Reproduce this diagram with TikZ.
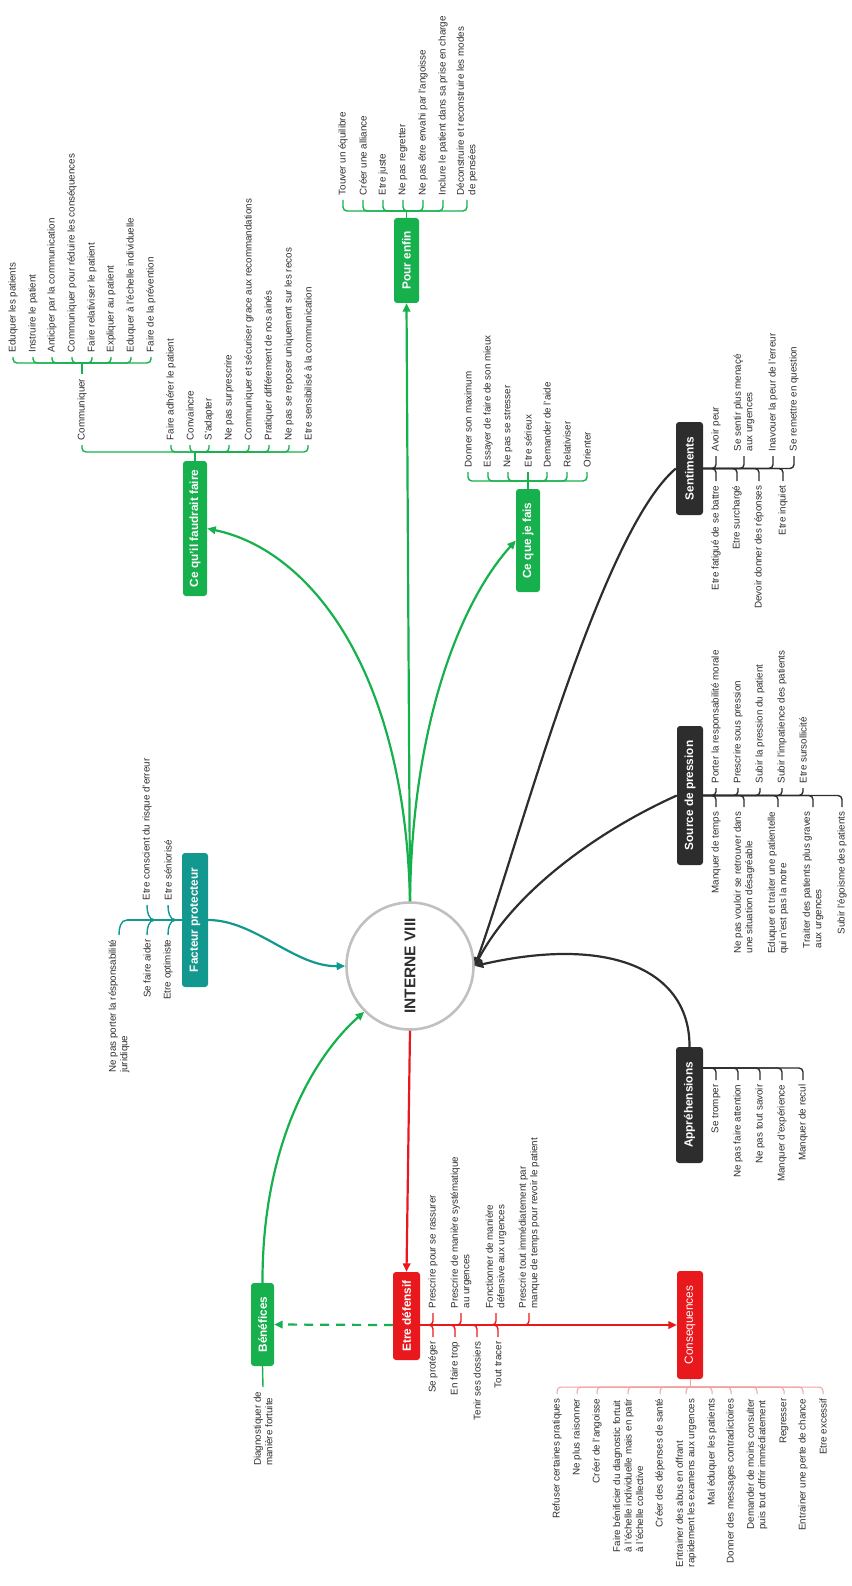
\documentclass[tikz,border=0pt]{standalone}
\usepackage{fontspec}
\setmainfont{Liberation Sans}
\usepackage{graphicx}
\usetikzlibrary{arrows.meta}
\definecolor{vert}{RGB}{22,176,76}
\definecolor{bleu}{RGB}{18,152,142}
\definecolor{noir}{RGB}{45,45,45}
\definecolor{rouge}{RGB}{232,24,28}
\definecolor{rose}{RGB}{242,160,160}
\definecolor{gris}{RGB}{192,192,192}
\definecolor{texte}{RGB}{45,45,45}
\newcommand{\linkwidth}{2.2pt}
\newcommand{\barwidth}{1.4pt}
\newcommand{\leaffont}{\fontsize{9.8}{11.5}\selectfont}
\newcommand{\boxfont}{\fontsize{11.8}{13}\selectfont\bfseries}

\begin{document}
\begin{tikzpicture}[x=1pt,y=1pt,
  box/.style={rotate=90, rounded corners=3pt, text=white, font=\boxfont, inner sep=0pt},
  leaf/.style={rotate=90, font=\leaffont, text=texte, inner xsep=4.5pt, inner ysep=1pt, align=left},
  lup/.style={leaf, anchor=west},
  ldn/.style={leaf, anchor=east},
  tip/.style={-{Triangle[length=8.5pt,width=7.5pt]}},
  glink/.style={draw=vert, line width=\linkwidth},
  gbar/.style={draw=vert, line width=\barwidth, rounded corners=4pt},
  nbar/.style={draw=noir, line width=\barwidth, rounded corners=4pt},
  rbar/.style={draw=rouge, line width=\barwidth, rounded corners=4pt},
  pbar/.style={draw=rose, line width=1pt, rounded corners=4pt},
  tbar/.style={draw=bleu, line width=\barwidth}]
\useasboundingbox (0,0) rectangle (851,-1586);

%centre
\node[circle, draw=gris, line width=2.6pt, minimum size=127pt, inner sep=0pt, text=texte] (centre) at (410,-966)
  {\rotatebox{90}{\fontsize{15.5}{16}\selectfont\bfseries INTERNE VIII}};

%boxes
\node[box, fill=vert, minimum width=85pt, minimum height=25pt] (pour) at (406.5,-260.5) {Pour enfin};
\node[box, fill=vert, minimum width=135pt, minimum height=24pt] (faire) at (195,-528.5) {Ce qu'il faudrait faire};
\node[box, fill=vert, minimum width=103pt, minimum height=24pt] (fais) at (528,-540.5) {Ce que je fais};
\node[box, fill=bleu, minimum width=134pt, minimum height=26pt] (facteur) at (195,-920) {Facteur protecteur};
\node[box, fill=noir, minimum width=93pt, minimum height=27pt] (sent) at (689.5,-468.5) {Sentiments};
\node[box, fill=noir, minimum width=139pt, minimum height=26pt] (source) at (690,-795.5) {Source de pression};
\node[box, fill=noir, minimum width=116pt, minimum height=27pt] (appre) at (689.5,-1105) {Appréhensions};
\node[box, fill=rouge, minimum width=88pt, minimum height=27pt] (defensif) at (406.5,-1316) {Etre défensif};
\node[box, fill=rouge, minimum width=108pt, minimum height=26pt, font=\fontsize{11.8}{13}\selectfont] (conseq) at (690,-1325) {Consequences};
\node[box, fill=vert, minimum width=83pt, minimum height=23pt] (benef) at (262.5,-1324.5) {Bénéfices};

%links
\draw[glink, tip] (centre.north) -- (pour.west);
\draw[glink, tip] (centre.north) .. controls (405,-670) and (310,-550) .. (faire.south);
\draw[glink, tip] (centre.north) .. controls (412,-720) and (462,-600) .. (fais.north);
\draw[glink, tip] (benef.east) .. controls (262,-1150) and (310,-1060) .. (centre.225);
\draw[draw=bleu, line width=\linkwidth, tip] (facteur.south) .. controls (255,-920) and (295,-967) .. (centre.west);
\draw[draw=noir, line width=\linkwidth, tip] (sent.north) .. controls (599,-534) and (516,-853) .. (centre.east);
\draw[draw=noir, line width=\linkwidth, tip] (source.north) .. controls (600,-830) and (515,-890) .. (centre.east);
\draw[draw=noir, line width=\linkwidth, tip] (appre.east) .. controls (690,-970) and (610,-935) .. (centre.east);
\draw[draw=rouge, line width=\linkwidth, tip] (centre.south) -- (defensif.east);
\coordinate (dj) at (420,-1325);
\coordinate (bj) at (393,-1325);
\draw[draw=rouge, line width=\linkwidth, tip] (dj) -- (conseq.north);
\draw[glink, dash pattern=on 9pt off 7pt, tip] (bj) -- (benef.south);

%pour enfin
\coordinate (pourj) at (406.5,-211);
\node[lup] (pour1) at (343,-200) {Touver un équilibre};
\node[lup] (pour2) at (363,-200) {Créer une alliance};
\node[lup] (pour3) at (383,-200) {Etre juste};
\node[lup] (pour4) at (403,-200) {Ne pas regretter};
\node[lup] (pour5) at (423,-200) {Ne pas être envahi par l'angoisse};
\node[lup] (pour6) at (443,-200) {Inclure le patient dans sa prise en charge};
\node[lup] (pour7) at (467,-200) {Déconstruire et reconstruire les modes\\de pensées};
\draw[gbar] (pour.east) -- (pourj);
\draw[gbar] (pour1.west) |- (pourj);
\draw[gbar] (pour2.west) |- (pourj);
\draw[gbar] (pour3.west) |- (pourj);
\draw[gbar] (pour4.west) |- (pourj);
\draw[gbar] (pour5.west) |- (pourj);
\draw[gbar] (pour6.west) |- (pourj);
\draw[gbar] (pour7.west) |- (pourj);

%ce qu'il faudrait faire
\coordinate (fairej) at (195,-452);
\node[lup] (com) at (82,-445) {Communiquer};
\node[lup] (faire1) at (171,-445) {Faire adhérer le patient};
\node[lup] (faire2) at (190,-445) {Convaincre};
\node[lup] (faire3) at (209,-445) {S'adapter};
\node[lup] (faire4) at (229,-445) {Ne pas surprescrire};
\node[lup] (faire5) at (249,-445) {Communiquer et sécuriser grace aux recommandations};
\node[lup] (faire6) at (269,-445) {Pratiquer différement de nos ainés};
\node[lup] (faire7) at (289,-445) {Ne pas se reposer uniquement sur les recos};
\node[lup] (faire8) at (308,-445) {Etre sensibilisé à la communication};
\draw[gbar] (faire.east) -- (fairej);
\draw[gbar] (com.west) |- (fairej);
\draw[gbar] (faire1.west) |- (fairej);
\draw[gbar] (faire2.west) |- (fairej);
\draw[gbar] (faire3.west) |- (fairej);
\draw[gbar] (faire4.west) |- (fairej);
\draw[gbar] (faire5.west) |- (fairej);
\draw[gbar] (faire6.west) |- (fairej);
\draw[gbar] (faire7.west) |- (fairej);
\draw[gbar] (faire8.west) |- (fairej);
%communiquer
\coordinate (comj) at (82,-363);
\node[lup] (com1) at (13,-357) {Eduquer les patients};
\node[lup] (com2) at (33,-357) {Instruire le patient};
\node[lup] (com3) at (52,-357) {Anticiper par la communication};
\node[lup] (com4) at (72,-357) {Communiquer pour réduire les conséquences};
\node[lup] (com5) at (92,-357) {Faire relativiser le patient};
\node[lup] (com6) at (111,-357) {Expliquer au patient};
\node[lup] (com7) at (131,-357) {Eduquer à l'échelle individuelle};
\node[lup] (com8) at (151,-357) {Faire de la prévention};
\draw[gbar] (com.east) -- (comj);
\draw[gbar] (com1.west) |- (comj);
\draw[gbar] (com2.west) |- (comj);
\draw[gbar] (com3.west) |- (comj);
\draw[gbar] (com4.west) |- (comj);
\draw[gbar] (com5.west) |- (comj);
\draw[gbar] (com6.west) |- (comj);
\draw[gbar] (com7.west) |- (comj);
\draw[gbar] (com8.west) |- (comj);

%ce que je fais
\coordinate (faisj) at (528,-481);
\node[lup] (fais1) at (468,-472) {Donner son maximum};
\node[lup] (fais2) at (488,-472) {Essayer de faire de son mieux};
\node[lup] (fais3) at (508,-472) {Ne pas se stresser};
\node[lup] (fais4) at (528,-472) {Etre sérieux};
\node[lup] (fais5) at (547,-472) {Demander de l'aide};
\node[lup] (fais6) at (567,-472) {Relativiser};
\node[lup] (fais7) at (587,-472) {Orienter};
\draw[gbar] (fais.east) -- (faisj);
\draw[gbar] (fais1.west) |- (faisj);
\draw[gbar] (fais2.west) |- (faisj);
\draw[gbar] (fais3.west) |- (faisj);
\draw[gbar] (fais4.west) -- (faisj);
\draw[gbar] (fais5.west) |- (faisj);
\draw[gbar] (fais6.west) |- (faisj);
\draw[gbar] (fais7.west) |- (faisj);

%facteur protecteur
\coordinate (fpa) at (176,-920);
\coordinate (fpb) at (155,-920);
\coordinate (fpc) at (127,-920);
\node[lup] (fac1) at (168,-905) {Etre séniorisé};
\node[ldn] (fac2) at (168,-935) {Etre optimiste};
\node[lup] (fac3) at (147,-905) {Etre conscient du risque d'erreur};
\node[ldn] (fac4) at (147,-935) {Se faire aider};
\node[ldn] (fac5) at (119,-935) {Ne pas porter la résponsabilité\\juridique};
\draw[tbar] (facteur.north) -- (fpc);
\draw[tbar] (fac1.west) to[out=-90, in=180] (fpa);
\draw[tbar] (fac2.east) to[out=90, in=180] (fpa);
\draw[tbar] (fac3.west) to[out=-90, in=180] (fpb);
\draw[tbar] (fac4.east) to[out=90, in=180] (fpb);
\draw[tbar] (fac5.east) to[out=90, in=180] (fpc);

%sentiments
\node[lup] (sent1) at (716,-456) {Avoir peur};
\node[lup] (sent2) at (744,-456) {Se sentir plus menaçé\\aux urgences};
\node[lup] (sent3) at (773,-456) {Inavouer la peur de l'erreur};
\node[lup] (sent4) at (794,-456) {Se remettre en question};
\node[ldn] (sent5) at (716,-481) {Etre fatigué de se battre};
\node[ldn] (sent6) at (737,-481) {Etre surchargé};
\node[ldn] (sent7) at (759,-481) {Devoir donner des réponses};
\node[ldn] (sent8) at (783,-481) {Etre inquiet};
\draw[nbar] (sent1.west) |- (sent.south);
\draw[nbar] (sent2.west) |- (sent.south);
\draw[nbar] (sent3.west) |- (sent.south);
\draw[nbar] (sent4.west) |- (sent.south);
\draw[nbar] (sent5.east) |- (sent.south);
\draw[nbar] (sent6.east) |- (sent.south);
\draw[nbar] (sent7.east) |- (sent.south);
\draw[nbar] (sent8.east) |- (sent.south);

%source de pression
\node[lup] (src1) at (716,-788) {Porter la responsabilité morale};
\node[lup] (src2) at (738,-788) {Prescrire sous pression};
\node[lup] (src3) at (760,-788) {Subir la pression du patient};
\node[lup] (src4) at (782,-788) {Subir l'impatience des patients};
\node[lup] (src5) at (803,-788) {Etre sursollicité};
\node[ldn] (src6) at (716,-807) {Manquer de temps};
\node[ldn] (src7) at (744,-807) {Ne pas vouloir se retrouver dans\\une situation désagréable};
\node[ldn] (src8) at (778,-807) {Eduquer et traiter une patientelle\\qui n'est pas la notre};
\node[ldn] (src9) at (813,-807) {Traiter des patients plus graves\\aux urgences};
\node[ldn] (src10) at (842,-807) {Subir l'égoisme des patients};
\draw[nbar] (src1.west) |- (source.south);
\draw[nbar] (src2.west) |- (source.south);
\draw[nbar] (src3.west) |- (source.south);
\draw[nbar] (src4.west) |- (source.south);
\draw[nbar] (src5.west) |- (source.south);
\draw[nbar] (src6.east) |- (source.south);
\draw[nbar] (src7.east) |- (source.south);
\draw[nbar] (src8.east) |- (source.south);
\draw[nbar] (src9.east) |- (source.south);
\draw[nbar] (src10.east) |- (source.south);

%apprehensions
\coordinate (apprej) at (703,-1068);
\node[ldn] (app1) at (716,-1080) {Se tromper};
\node[ldn] (app2) at (738,-1080) {Ne pas faire attention};
\node[ldn] (app3) at (760,-1080) {Ne pas tout savoir};
\node[ldn] (app4) at (782,-1080) {Manquer d'expérience};
\node[ldn] (app5) at (803,-1080) {Manquer de recul};
\draw[nbar] (app1.east) |- (apprej);
\draw[nbar] (app2.east) |- (apprej);
\draw[nbar] (app3.east) |- (apprej);
\draw[nbar] (app4.east) |- (apprej);
\draw[nbar] (app5.east) |- (apprej);

%etre defensif
\node[lup] (def1) at (433,-1313) {Prescrire pour se rassurer};
\node[lup] (def2) at (461,-1313) {Prescrire de manière systématique\\au urgences};
\node[lup] (def3) at (496,-1313) {Fonctionner de manière\\défensive aux urgences};
\node[lup] (def4) at (529,-1313) {Prescrie tout immédiatement par\\manque de temps pour revoir le patient};
\node[ldn] (def5) at (433,-1337) {Se protéger};
\node[ldn] (def6) at (455,-1337) {En faire trop};
\node[ldn] (def7) at (477,-1337) {Tenir ses dossiers};
\node[ldn] (def8) at (498,-1337) {Tout tracer};
\draw[rbar] (def1.west) |- (dj);
\draw[rbar] (def2.west) |- (dj);
\draw[rbar] (def3.west) |- (dj);
\draw[rbar] (def4.west) |- (dj);
\draw[rbar] (def5.east) |- (dj);
\draw[rbar] (def6.east) |- (dj);
\draw[rbar] (def7.east) |- (dj);
\draw[rbar] (def8.east) |- (dj);

%consequences
\coordinate (conseqj) at (690,-1387);
\node[ldn] (cons1) at (557,-1394) {Refuser certaines pratiques};
\node[ldn] (cons2) at (577,-1394) {Ne plus raisonner};
\node[ldn] (cons3) at (597,-1394) {Créer de l'angoisse};
\node[ldn] (cons4) at (628,-1394) {Faire bénificier du diagnostic fortuit\\à l'échelle individuelle mais en patir\\à l'échelle collective};
\node[ldn] (cons5) at (660,-1394) {Créer des dépenses de santé};
\node[ldn] (cons6) at (686,-1394) {Entrainer des abus en offrant\\rapidement les examens aux urgences};
\node[ldn] (cons7) at (712,-1394) {Mal éduquer les patients};
\node[ldn] (cons8) at (731,-1394) {Donner des messages contradictoires};
\node[ldn] (cons9) at (757,-1394) {Demander de moins consulter\\puis tout offrir immédiatement};
\node[ldn] (cons10) at (784,-1394) {Regresser};
\node[ldn] (cons11) at (803,-1394) {Entrainer une perte de chance};
\node[ldn] (cons12) at (823,-1394) {Etre excessif};
\draw[pbar] (conseq.west) -- (conseqj);
\draw[pbar] (cons1.east) |- (conseqj);
\draw[pbar] (cons2.east) |- (conseqj);
\draw[pbar] (cons3.east) |- (conseqj);
\draw[pbar] (cons4.east) |- (conseqj);
\draw[pbar] (cons5.east) |- (conseqj);
\draw[pbar] (cons6.east) |- (conseqj);
\draw[pbar] (cons7.east) |- (conseqj);
\draw[pbar] (cons8.east) |- (conseqj);
\draw[pbar] (cons9.east) |- (conseqj);
\draw[pbar] (cons10.east) |- (conseqj);
\draw[pbar] (cons11.east) |- (conseqj);
\draw[pbar] (cons12.east) |- (conseqj);

%benefices
\node[ldn] (ben1) at (263,-1387) {Diagnostiquer de\\manière fortuite};
\draw[gbar] (benef.west) -- (ben1.east);
\end{tikzpicture}
\end{document}
